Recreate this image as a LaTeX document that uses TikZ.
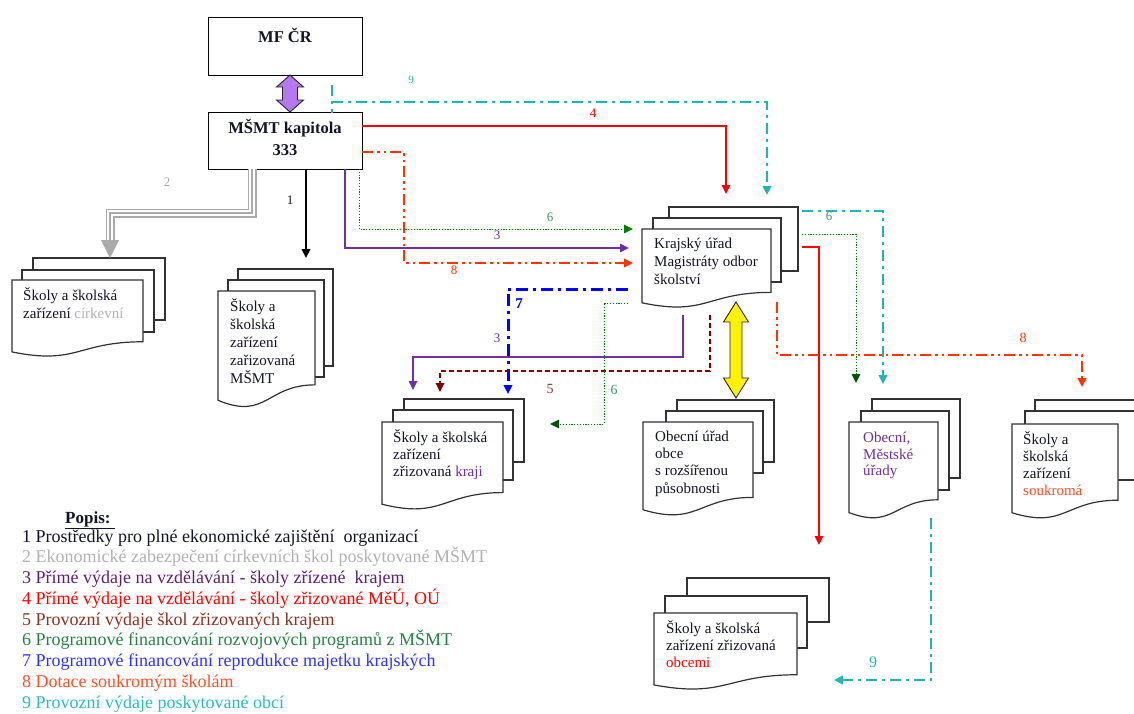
\documentclass[tikz,border=0pt]{standalone}
\usepackage{fontspec}
\setmainfont{Liberation Serif}
\usetikzlibrary{arrows.meta,calc}
\definecolor{cc2}{RGB}{170,170,170}
\definecolor{cc3}{RGB}{112,48,160}
\definecolor{cc4}{RGB}{255,0,0}
\definecolor{cc5}{RGB}{128,0,0}
\definecolor{cc6}{RGB}{0,128,0}
\definecolor{cc6d}{RGB}{0,85,0}
\definecolor{cc6l}{RGB}{60,150,110}
\definecolor{cc7}{RGB}{0,0,255}
\definecolor{cc8}{RGB}{255,51,0}
\definecolor{cc9}{RGB}{32,180,180}
\definecolor{lilac}{RGB}{180,120,240}
\definecolor{docgray}{RGB}{50,50,50}
\definecolor{navy}{RGB}{20,20,40}
\definecolor{lg2}{RGB}{178,178,178}
\definecolor{lg3}{RGB}{95,30,120}
\definecolor{lg5}{RGB}{140,50,30}
\definecolor{lg6}{RGB}{40,130,70}
\definecolor{lg7}{RGB}{50,50,255}
\definecolor{lg8}{RGB}{255,80,40}
\definecolor{lg9}{RGB}{40,190,190}
\newcommand\firstl[1]{\rule{0pt}{#1}}
% sheet: L T W h
\newcommand\sheet[4]{\draw[docline] (#1,#2) rectangle ++(#3,#4);}
% front document: L T W H
\newcommand\docfront[4]{\draw[docline] (#1,#2) -- ({#1+#3},#2) -- ({#1+#3},{#2+0.802*#4})
  .. controls ({#1+0.5*#3},{#2+0.802*#4}) and ({#1+0.5*#3},{#2+1.107*#4}) .. (#1,{#2+0.934*#4}) -- cycle;}
% double arrow between two coordinates (top, bottom): half head width, half shaft width, head length, fill
\newcommand\dblarrow[6]{\draw[draw=black!85, fill=#6, line width=0.9pt] let \p1=(#1), \p2=(#2) in
  (\x1,\y1) -- ({\x1+#3},{\y1-#5}) -- ({\x1+#4},{\y1-#5}) -- ({\x1+#4},{\y2+#5}) -- ({\x1+#3},{\y2+#5})
  -- (\x1,\y2) -- ({\x1-#3},{\y2+#5}) -- ({\x1-#4},{\y2+#5}) -- ({\x1-#4},{\y1-#5}) -- ({\x1-#3},{\y1-#5}) -- cycle;}
\tikzset{
  docline/.style={draw=docgray, line width=1.2pt, fill=white},
  box/.style={draw=black, line width=1.2pt, fill=white, inner sep=0pt},
  dtext/.style={anchor=north west, inner sep=0pt, align=left, text=navy},
  lab/.style={inner sep=0pt, font=\fontsize{13}{13}\selectfont},
  tipc/.style={-{Triangle[length=9pt,width=8.5pt,fill=#1,color=#1]}},
  l9/.style={cc9, line width=2.6pt, dash pattern=on 11pt off 5pt on 3pt off 5pt},
  l4/.style={cc4, line width=1.1pt},
  l8/.style={cc8, line width=2.2pt, dash pattern=on 11pt off 4pt on 2.5pt off 4pt on 2.5pt off 4pt},
  l6/.style={cc6, line width=1pt, dash pattern=on 1.2pt off 1.6pt},
  l3/.style={cc3, line width=1.4pt},
  l5/.style={cc5, line width=1.1pt, dash pattern=on 5pt off 3pt},
  l7/.style={cc7, line width=3pt, dash pattern=on 12pt off 5pt on 3pt off 5pt},
  l1/.style={black, line width=2pt}
}
\begin{document}
\begin{tikzpicture}[x=1pt,y=-1pt]
\useasboundingbox[fill=white] (0,0) rectangle (1134,713);

% ---- top boxes
\node[box, minimum width=154pt, minimum height=58pt, anchor=north west] (mf) at (208,17) {};
\node[inner sep=0pt, font=\bfseries\fontsize{16.5}{20}\selectfont, text=navy] (mft) at (285,35) {MF ČR};
\node[box, minimum width=154pt, minimum height=57pt, anchor=north west] (msmt) at (208,112) {};
\node[inner sep=0pt, anchor=north, align=center, font=\bfseries\fontsize{16.5}{22}\selectfont, text=navy] (msmtt) at (285,119) {\firstl{14pt}MŠMT kapitola\\333};

% ---- document stacks
% církevní
\sheet{33}{258}{132}{62}\sheet{22}{270}{132}{62}\docfront{12}{280}{131}{77}
% zřizovaná MŠMT
\sheet{238}{269}{95}{97}\sheet{228}{280}{96}{97}\docfront{218}{291}{97}{117}
% Krajský úřad
\sheet{669}{207}{129}{64}\sheet{653}{218}{128}{64}\docfront{642}{229}{129}{79}
% zřizovaná kraji
\sheet{404}{399}{120}{63}\sheet{393}{410}{120}{70}\docfront{382}{422}{121}{88}
% Obecní úřad
\sheet{677}{400}{97}{62}\sheet{666}{411}{97}{62}\docfront{643}{422}{110}{94}
% Obecní, Městské
\sheet{872}{399}{88}{79}\sheet{861}{411}{88}{79}\docfront{849}{422}{89}{97}
% soukromá
\sheet{1035}{400}{115}{69}\sheet{1025}{411}{115}{69}\docfront{1012}{424}{106}{95}
% obcemi
\sheet{687}{578}{142}{44}\sheet{665}{596}{142}{52}\docfront{654}{613}{143}{77}

% ---- document texts
\node[dtext, font=\fontsize{15}{18}\selectfont] (tcirk) at (23,286) {\firstl{14pt}Školy a školská\\zařízení {\color{lg2}církevní}};
\node[dtext, font=\fontsize{15}{18}\selectfont] (tmsmt) at (230,297) {\firstl{14pt}Školy a\\školská\\zařízení\\zařizovaná\\MŠMT};
\node[dtext, font=\fontsize{15}{18}\selectfont] (tkraj) at (654,234) {\firstl{14pt}Krajský úřad\\Magistráty odbor\\školství};
\node[dtext, font=\fontsize{15}{17}\selectfont] (tkraji) at (393,428) {\firstl{14pt}Školy a školská\\zařízení\\zřizovaná {\color{cc3}kraji}};
\node[dtext, font=\fontsize{15}{17.3}\selectfont] (tobecu) at (655,427) {\firstl{14pt}Obecní úřad\\obce\\s rozšířenou\\působnosti};
\node[dtext, font=\fontsize{15}{16.8}\selectfont, text=cc3] (tobecm) at (863,428) {\firstl{14pt}Obecní,\\Městské\\úřady};
\node[dtext, font=\fontsize{15}{17}\selectfont] (tsoukr) at (1023,430) {\firstl{14pt}Školy a\\školská\\zařízení\\{\color{lg8}soukromá}};
\node[dtext, font=\fontsize{15}{17}\selectfont] (tobcemi) at (666,619) {\firstl{14pt}Školy a školská\\zařízení zřizovaná\\{\color{cc4}obcemi}};

% ---- double arrows
\coordinate (pTop) at (290,75);
\coordinate (pBot) at (290,112);
\dblarrow{pTop}{pBot}{13.5pt}{7.5pt}{12pt}{lilac}
\coordinate (yTop) at (736,302);
\coordinate (yBot) at (736,398);
\dblarrow{yTop}{yBot}{12.5pt}{6pt}{20pt}{yellow}

% ---- connectors from MŠMT
\coordinate (e9a) at (332,85);
\coordinate (e9k) at (767,195);
\draw[l9] (e9a) -- (332,113);
\draw[l9, tipc=cc9] (332,102) -- (767,102) -- (e9k);
\coordinate (e4k) at (726,194);
\draw[l4, tipc=cc4] (362,126) -- (726,126) -- (e4k);
\coordinate (e8k) at (633,263);
\draw[l8, tipc=cc8] (362,152) -- (404,152) -- (404,263) -- (e8k);
\coordinate (e6k) at (633,229);
\draw[l6, tipc=cc6] (359,169) -- (359,229) -- (e6k);
\coordinate (e3k) at (629,248);
\draw[l3, tipc=cc3] (345,169) -- (345,248) -- (e3k);
\coordinate (e1) at (306,258);
\draw[l1, tipc=black] (306,169) -- (e1);
% 2 triple grey line
\draw[cc2, line width=9pt] (252,169) -- (252,213) -- (110,213) -- (110,241);
\draw[white, line width=5.6pt] (252,169) -- (252,213) -- (110,213) -- (110,241);
\draw[cc2, line width=1.6pt] (252,169) -- (252,213) -- (110,213) -- (110,241);
\fill[cc2] (101,240) -- (119,240) -- (110,258) -- cycle;

% ---- connectors from Krajský úřad
\coordinate (e9m) at (883,384);
\draw[l9, tipc=cc9] (802,211) -- (883,211) -- (e9m);
\coordinate (e6m) at (856,383);
\draw[l6, tipc=cc6d] (802,234) -- (856,234) -- (e6m);
\coordinate (e4o) at (819,545);
\draw[l4, tipc=cc4] (802,247) -- (819,247) -- (e4o);
\coordinate (e8s) at (1082,387);
\draw[l8, tipc=cc8] (777,302) -- (777,355) -- (1082,355) -- (e8s);
\coordinate (e3r) at (413,390);
\draw[l3, tipc=cc3] (683,315) -- (683,357) -- (413,357) -- (e3r);
\coordinate (e5r) at (440,392);
\draw[l5, tipc=cc5] (710,315) -- (710,371) -- (440,371) -- (e5r);
\coordinate (e7r) at (508,394);
\draw[l7, tipc=cc7] (628,289) -- (508,289) -- (e7r);
\coordinate (e6r) at (550,424);
\draw[l6, tipc=cc6d] (628,303) -- (604,303) -- (604,424) -- (e6r);
% ---- from Obecní, Městské úřady
\coordinate (e9o) at (834,680);
\draw[l9, tipc=cc9] (931,518) -- (931,680) -- (e9o);

% ---- labels
\node[lab, text=cc9, font=\fontsize{11}{11}\selectfont] (n9a) at (411,80) {9};
\node[lab, text=cc4] (n4) at (593,113) {4};
\node[lab, text=cc6l] (n6a) at (550,217) {6};
\node[lab, text=cc3] (n3a) at (497,235) {3};
\node[lab, text=cc8] (n8a) at (454,270) {8};
\node[lab, text=cc2] (n2) at (167,182) {2};
\node[lab, text=navy] (n1) at (290,200) {1};
\node[lab, text=cc6l] (n6b) at (829,216) {6};
\node[lab, text=cc8, font=\fontsize{14}{14}\selectfont] (n8b) at (1023,338) {8};
\node[lab, text=cc7, font=\bfseries\fontsize{15}{15}\selectfont] (n7) at (519,304) {7};
\node[lab, text=cc3] (n3b) at (497,338) {3};
\node[lab, text=lg5, font=\fontsize{14}{14}\selectfont] (n5) at (550,389) {5};
\node[lab, text=cc6l, font=\fontsize{14}{14}\selectfont] (n6c) at (614,390) {6};
\node[lab, text=cc9, font=\fontsize{16}{16}\selectfont] (n9b) at (873,662) {9};

% ---- legend
\node[anchor=north west, inner sep=0pt, text=navy, font=\bfseries\fontsize{17}{20}\selectfont] (popis) at (65,509) {\firstl{14pt}\underline{Popis:\ }};
\node[anchor=north west, inner sep=0pt, align=left, text=navy, font=\fontsize{18}{20.75}\selectfont] (legend) at (22,525)
{\firstl{17pt}1 Prostředky pro plné ekonomické zajištění~ organizací\\
{\color{lg2}2 Ekonomické zabezpečení církevních škol poskytované MŠMT}\\
{\color{lg3}3 Přímé výdaje na vzdělávání - školy zřízené~ krajem}\\
{\color{cc4}4 Přímé výdaje na vzdělávání - školy zřizované MěÚ, OÚ}\\
{\color{lg5}5 Provozní výdaje škol zřizovaných krajem}\\
{\color{lg6}6 Programové financování rozvojových programů z MŠMT}\\
{\color{lg7}7 Programové financování reprodukce majetku krajských}\\
{\color{lg8}8 Dotace soukromým školám}\\
{\color{lg9}9 Provozní výdaje poskytované obcí}};
\end{tikzpicture}
\end{document}
